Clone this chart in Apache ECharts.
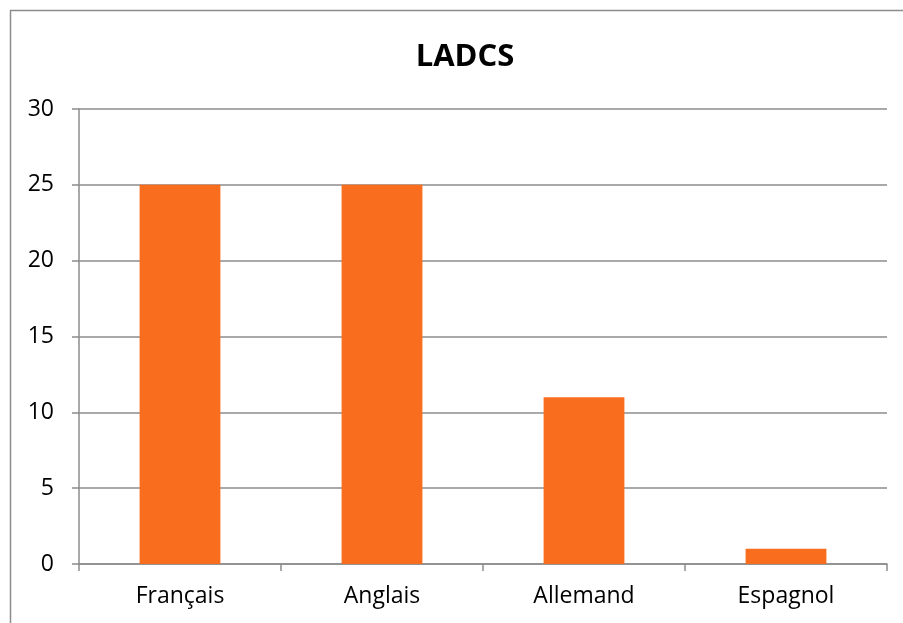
<!DOCTYPE html>
<html>
<head>
<meta charset="utf-8">
<script src="https://cdn.jsdelivr.net/npm/echarts@6/dist/echarts.min.js"></script>
<style>
html, body { margin: 0; padding: 0; background: #ffffff; }
#chart { width: 903px; height: 623px; }
</style>
</head>
<body>
<div id="chart"></div>
<script>
// Language counts
const languages = ['Français', 'Anglais', 'Allemand', 'Espagnol'];
const counts = [25, 25, 11, 1];
const yTicks = [0, 5, 10, 15, 20, 25, 30];

const chart = echarts.init(document.getElementById('chart'), null, { renderer: 'canvas' });
const font = '"Open Sans", "Liberation Sans", sans-serif';

chart.setOption({
  animation: false,
  backgroundColor: '#ffffff',
  title: {
    text: 'LADCS',
    left: 460,
    textAlign: 'center',
    top: 37,
    textStyle: { fontFamily: font, fontSize: 31, fontWeight: 'bold', color: '#000000' }
  },
  graphic: [{
    type: 'rect',
    shape: { x: 10.5, y: 10.5, width: 1000, height: 1000 },
    style: { fill: null, stroke: '#8c8c8c', lineWidth: 1.5 },
    silent: true
  }],
  grid: { left: 79, right: 16, top: 109, bottom: 59, containLabel: false },
  xAxis: {
    type: 'category',
    data: languages,
    axisLine: { show: true, lineStyle: { color: '#8c8c8c', width: 1.5 } },
    axisTick: { show: true, alignWithLabel: false, length: 7, lineStyle: { color: '#8c8c8c', width: 1.5 } },
    axisLabel: { fontFamily: font, fontSize: 23, color: '#000000', margin: 21 }
  },
  yAxis: {
    type: 'value',
    min: yTicks[0],
    max: yTicks[yTicks.length - 1],
    interval: yTicks[1] - yTicks[0],
    axisLine: { show: true, lineStyle: { color: '#8c8c8c', width: 1.5 } },
    axisTick: { show: true, length: 7, lineStyle: { color: '#8c8c8c', width: 1.5 } },
    axisLabel: { fontFamily: font, fontSize: 23, color: '#000000', margin: 25 },
    splitLine: { show: true, lineStyle: { color: '#8c8c8c', width: 1.5 } }
  },
  series: [{
    type: 'bar',
    data: counts,
    barWidth: '40%',
    itemStyle: { color: '#F96E1E' }
  }]
});
</script>
</body>
</html>
